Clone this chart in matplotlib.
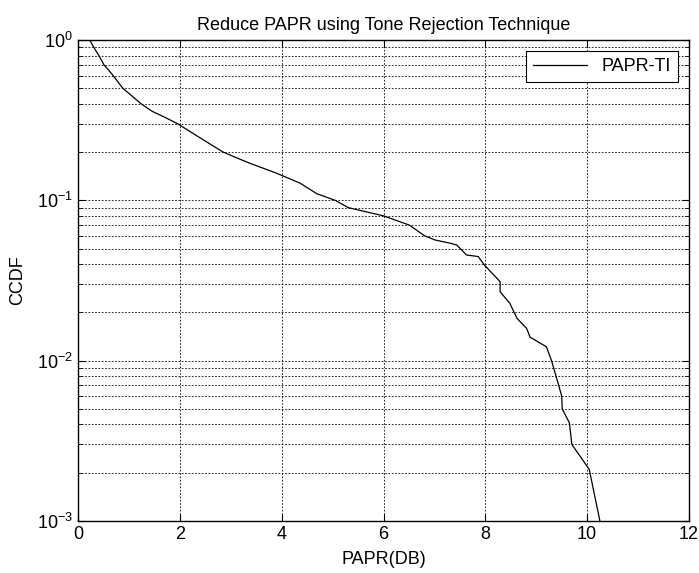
import matplotlib
matplotlib.use('Agg')
import matplotlib.pyplot as plt
from matplotlib.ticker import LogLocator, NullFormatter

# valores (CCDF empírica)
papr_db = [0.23, 0.31, 0.41, 0.51, 0.60, 0.69, 0.78, 0.88, 1.05, 1.24, 1.45,
           1.70, 1.96, 2.40, 2.85, 3.10, 3.38, 3.89,
           4.36, 4.69, 5.05, 5.31, 6.0, 6.51, 6.81, 7.01, 7.31, 7.44, 7.63,
           7.86, 7.98, 8.29, 8.29, 8.48, 8.62, 8.81, 8.88, 9.20, 9.30, 9.43,
           9.50, 9.51, 9.65, 9.70, 10.04, 10.25]
ccdf = [1.0, 0.9, 0.8, 0.7, 0.65, 0.6, 0.55, 0.5, 0.45, 0.4, 0.36,
        0.33, 0.3, 0.245, 0.2, 0.185, 0.17, 0.148,
        0.128, 0.110, 0.1, 0.09, 0.08, 0.07, 0.06, 0.0566, 0.054, 0.0526, 0.0456,
        0.0446, 0.0395, 0.0311, 0.0269, 0.0228, 0.0184, 0.0159, 0.0140, 0.0122, 0.0100, 0.0072,
        0.0060, 0.0050, 0.0041, 0.0030, 0.0021, 0.001]
x_ticks = [0, 2, 4, 6, 8, 10, 12]

plt.rcParams['font.family'] = ['Liberation Sans', 'DejaVu Sans']
plt.rcParams['font.size'] = 13

fig = plt.figure(figsize=(6.99, 5.73), dpi=100, facecolor='white')
ax = fig.add_axes([0.1116, 0.0908, 0.8741, 0.8394])

ax.semilogy(papr_db, ccdf, color='black', linewidth=0.9, label='PAPR-TI')

ax.set_xlim(0, 12)
ax.set_ylim(1e-3, 1)
ax.set_xticks(x_ticks)
ax.yaxis.set_major_locator(LogLocator(base=10, numticks=10))
ax.yaxis.set_minor_locator(LogLocator(base=10, subs=range(2, 10), numticks=10))
ax.yaxis.set_minor_formatter(NullFormatter())

# grade pontilhada estilo MATLAB
ax.grid(True, which='major', axis='both', color='black', linestyle=(0, (2, 2)), linewidth=0.6)
ax.grid(True, which='minor', axis='y', color='black', linestyle=(0, (2, 2)), linewidth=0.6)

ax.tick_params(which='both', direction='in', top=True, right=True, labelsize=13)
ax.tick_params(which='major', length=5)
ax.tick_params(which='minor', length=3)
for s in ax.spines.values():
    s.set_linewidth(1.0)

ax.set_title('Reduce PAPR using Tone Rejection Technique', fontsize=13, pad=7)
ax.set_xlabel('PAPR(DB)', labelpad=6)
ax.set_ylabel('CCDF', labelpad=8)

leg = ax.legend(loc='upper right', fancybox=False, framealpha=1, edgecolor='black',
                handlelength=3.0, borderaxespad=0.6, fontsize=13)
leg.get_frame().set_linewidth(0.8)

fig.savefig('out.png', dpi=100)
